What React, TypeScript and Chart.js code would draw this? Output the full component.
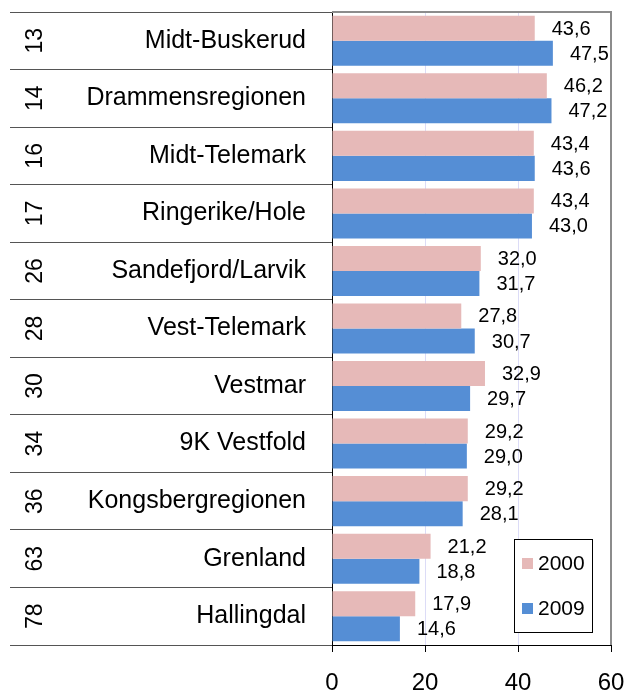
import React, { useEffect, useRef } from 'react';
import { Chart, registerables } from 'chart.js';
Chart.register(...registerables);

const ranks = ['13', '14', '16', '17', '26', '28', '30', '34', '36', '63', '78'];
const regions = ['Midt-Buskerud', 'Drammensregionen', 'Midt-Telemark', 'Ringerike/Hole', 'Sandefjord/Larvik', 'Vest-Telemark', 'Vestmar', '9K Vestfold', 'Kongsbergregionen', 'Grenland', 'Hallingdal'];
const values2000 = [43.6, 46.2, 43.4, 43.4, 32.0, 27.8, 32.9, 29.2, 29.2, 21.2, 17.9];
const values2009 = [47.5, 47.2, 43.6, 43.0, 31.7, 30.7, 29.7, 29.0, 28.1, 18.8, 14.6];
const seriesLabels = ['2000', '2009'];
const seriesColors = ['#E6B9B8', '#558ED5'];
const xMin = 0;
const xMax = 60;
const xStep = 20;

const FONT = 'Arial, "Liberation Sans", sans-serif';

const decor = {
  id: 'decor',
  afterDatasetsDraw(chart: any) {
    const { ctx, chartArea: a, scales } = chart;
    const y = scales.y;
    ctx.save();
    // top & right frame
    ctx.strokeStyle = '#8c8c8c';
    ctx.lineWidth = 2;
    ctx.beginPath();
    ctx.moveTo(a.left, a.top);
    ctx.lineTo(a.right, a.top);
    ctx.lineTo(a.right, a.bottom);
    ctx.stroke();

    // rank numbers (rotated)
    ctx.fillStyle = '#000';
    ctx.font = `23px ${FONT}`;
    ctx.textAlign = 'center';
    ctx.textBaseline = 'middle';
    ranks.forEach((r, i) => {
      const py = y.getPixelForValue(i);
      ctx.save();
      ctx.translate(36, py);
      ctx.rotate(-Math.PI / 2);
      ctx.fillText(r, 0, 0);
      ctx.restore();
    });

    // value labels
    ctx.font = `20px ${FONT}`;
    ctx.textAlign = 'left';
    chart.data.datasets.forEach((ds: any, di: number) => {
      const meta = chart.getDatasetMeta(di);
      meta.data.forEach((bar: any, i: number) => {
        const v = ds.data[i] as number;
        ctx.fillText(v.toFixed(1).replace('.', ','), bar.x + 17, bar.y + 1);
      });
    });

    // legend box
    const bx = a.right - 97;
    const by = a.bottom - 106;
    const bw = 78;
    const bh = 93;
    ctx.fillStyle = '#fff';
    ctx.fillRect(bx, by, bw, bh);
    ctx.strokeStyle = '#000';
    ctx.lineWidth = 1;
    ctx.strokeRect(bx + 0.5, by + 0.5, bw, bh);
    ctx.font = `21px ${FONT}`;
    ctx.textAlign = 'left';
    ctx.textBaseline = 'middle';
    chart.data.datasets.forEach((ds: any, di: number) => {
      const cy = by + 24 + di * 45;
      ctx.fillStyle = ds.backgroundColor;
      ctx.fillRect(bx + 8, cy - 5, 11, 11);
      ctx.fillStyle = '#000';
      ctx.fillText(ds.label, bx + 24, cy + 1);
    });
    ctx.restore();
  },
};

export default function App() {
  const ref = useRef<HTMLCanvasElement | null>(null);
  useEffect(() => {
    document.body.style.margin = '0';
    const canvas = ref.current!;
    const chart = new Chart(canvas, {
      type: 'bar',
      data: {
        labels: regions,
        datasets: [
          { label: seriesLabels[0], data: values2000, backgroundColor: seriesColors[0], borderWidth: 0, categoryPercentage: 0.87, barPercentage: 1.0 },
          { label: seriesLabels[1], data: values2009, backgroundColor: seriesColors[1], borderWidth: 0, categoryPercentage: 0.87, barPercentage: 1.0 },
        ],
      },
      options: {
        indexAxis: 'y',
        responsive: false,
        animation: false,
        devicePixelRatio: 1,
        layout: { padding: { left: 0, right: 17, top: 12, bottom: 0 } },
        plugins: {
          legend: { display: false },
          tooltip: { enabled: false },
        },
        scales: {
          x: {
            type: 'linear',
            min: xMin,
            max: xMax,
            ticks: {
              stepSize: xStep,
              color: '#000',
              font: { family: FONT, size: 24 },
              padding: 17,
            },
            grid: {
              color: (c: any) => (c.tick && c.tick.value > xMin && c.tick.value < xMax ? '#dcdcf7' : 'rgba(0,0,0,0)'),
              tickColor: '#000',
              tickLength: 7,
              lineWidth: 1,
            },
            border: { display: true, color: '#000', width: 1 },
            afterFit: (s: any) => { s.height = 50; s.paddingLeft = 0; s.paddingRight = 0; },
          },
          y: {
            type: 'category',
            offset: true,
            ticks: {
              color: '#000',
              font: { family: FONT, size: 25 },
              padding: -296,
              autoSkip: false,
            },
            grid: {
              offset: true,
              drawOnChartArea: false,
              drawTicks: true,
              tickLength: 322,
              color: '#555',
              lineWidth: 1,
            },
            border: { display: true, color: '#000', width: 1 },
            afterFit: (s: any) => { s.width = 332; s.paddingTop = 0; s.paddingBottom = 0; },
          },
        },
      },
      plugins: [decor],
    } as any);
    return () => chart.destroy();
  }, []);
  return <canvas ref={ref} width={628} height={695} style={{ display: 'block' }} />;
}
